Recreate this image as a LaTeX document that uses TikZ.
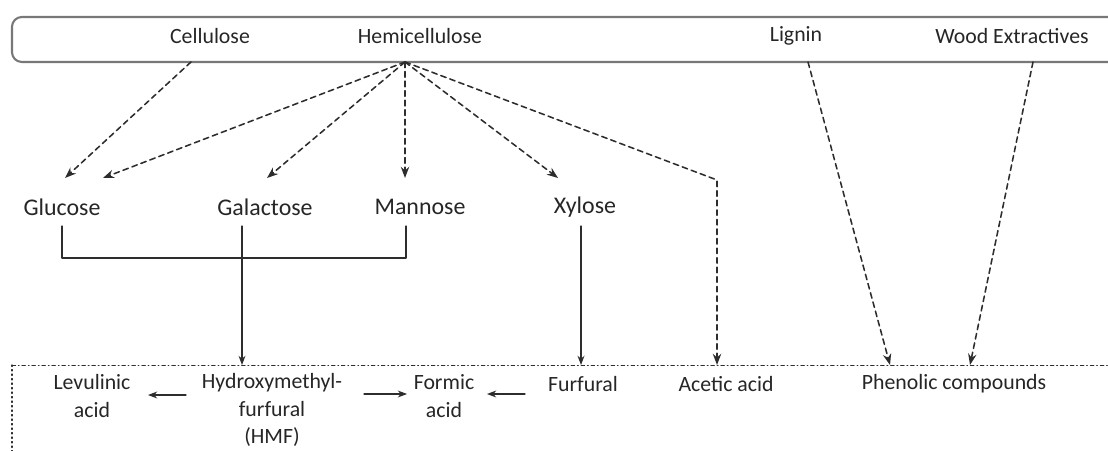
\documentclass[tikz,border=0pt]{standalone}
\usepackage{fontspec}
\setmainfont{Carlito}
\usepackage{tikz}
\usetikzlibrary{arrows.meta,calc,positioning}
\definecolor{woodtext}{RGB}{38,38,38}
\definecolor{woodline}{RGB}{45,45,45}
\definecolor{woodframe}{RGB}{120,120,120}

\begin{document}
\begin{tikzpicture}[x=0.025cm,y=-0.025cm,>=Stealth,line cap=round,line join=round,
  lbl/.style={text=woodtext,font=\fontsize{15.5}{19.5}\selectfont,align=center,inner sep=0pt},
  sugar/.style={text=woodtext,font=\fontsize{17}{20}\selectfont,inner sep=0pt},
  dasharrow/.style={->,woodline,line width=1.1pt,dash pattern=on 4pt off 2.8pt},
  solidarrow/.style={->,woodline,line width=0.8pt}]
 \useasboundingbox (0,0) rectangle (1108,451);
 \draw[woodframe,line width=1.5pt,rounded corners=7pt] (12,17) rectangle (1130,62);
 \draw[woodline,line width=0.7pt,dash pattern=on 2.5pt off 2pt on 0.6pt off 2pt] (12,365) -- (1110,365);
 \draw[woodline,line width=0.9pt,dash pattern=on 1pt off 2.2pt] (12,365) -- (12,452);
 \node[lbl] (cellulose) at (210,36) {Cellulose};
 \node[lbl] (hemi) at (420,36) {Hemicellulose};
 \node[lbl] (lignin) at (796,36) {Lignin};
 \node[lbl] (wood) at (1012,36) {Wood Extractives};
 \coordinate (celfoot) at (191,62);
 \coordinate (hub) at (405,62);
 \coordinate (ligfoot) at (808,62);
 \coordinate (woodfoot) at (1033,62);
 \node[sugar] (glucose) at (62,207) {Glucose};
 \node[sugar] (galactose) at (265,207) {Galactose};
 \node[sugar] (mannose) at (420,207) {Mannose};
 \node[sugar] (xylose) at (585,207) {Xylose};
 \coordinate (glcA) at (65,178);
 \coordinate (glcB) at (103,178);
 \coordinate (galin) at (267,178);
 \coordinate (manin) at (405,178);
 \coordinate (xylin) at (558,178);
 \coordinate (acbend) at (717,180);
 \coordinate (glcfoot) at (62,226);
 \coordinate (galfoot) at (242,226);
 \coordinate (manfoot) at (406,226);
 \coordinate (xylfoot) at (581,226);
 \coordinate (join) at (62,258);
 \node[lbl] (levulinic) at (92,396) {Levulinic\\acid};
 \node[lbl] (hmf) at (272,410) {Hydroxymethyl-\\furfural\\(HMF)};
 \node[lbl] (formic) at (444,396) {Formic\\acid};
 \node[lbl] (furfural) at (583,384) {Furfural};
 \node[lbl] (acetic) at (726,384) {Acetic acid};
 \node[lbl] (phenolic) at (954,384) {Phenolic compounds};
 \coordinate (hmfin) at (242,365);
 \coordinate (furin) at (581,365);
 \coordinate (acin) at (717,365);
 \coordinate (phenA) at (890,365);
 \coordinate (phenB) at (970,365);
 \coordinate (hmfL) at (186,395);
 \coordinate (levin) at (148,395);
 \coordinate (hmfR) at (364,394);
 \coordinate (forinL) at (407,394);
 \coordinate (furout) at (525,394);
 \coordinate (forinR) at (487,394);
 \draw[dasharrow] (celfoot) -- (glcA);
 \draw[dasharrow] (hub) -- (glcB);
 \draw[dasharrow] (hub) -- (galin);
 \draw[dasharrow] (hub) -- (manin);
 \draw[dasharrow] (hub) -- (xylin);
 \draw[dasharrow] (hub) -- (acbend) -- (acin);
 \draw[dasharrow] (ligfoot) -- (phenA);
 \draw[dasharrow] (woodfoot) -- (phenB);
 \draw[woodline,line width=0.8pt] (glcfoot) -- (join) -- (join -| manfoot) -- (manfoot);
 \draw[solidarrow] (galfoot) -- (hmfin);
 \draw[solidarrow] (xylfoot) -- (furin);
 \draw[solidarrow] (hmfL) -- (levin);
 \draw[solidarrow] (hmfR) -- (forinL);
 \draw[solidarrow] (furout) -- (forinR);
\end{tikzpicture}
\end{document}
